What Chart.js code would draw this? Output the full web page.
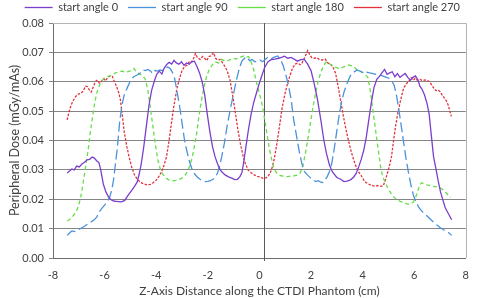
<!DOCTYPE html>
<html lang="en">
<head>
<meta charset="UTF-8" />
<title>Peripheral Dose along the CTDI Phantom</title>
<style>
  body {
    margin: 0;
    background: #ffffff;
  }
  #wrap {
    width: 480px;
    height: 298px;
  }
</style>
</head>
<body>
<div id="wrap"><canvas id="doseChart"></canvas></div>

<script src="https://cdn.jsdelivr.net/npm/chart.js"></script>
<script>
  // Values (z in cm, dose in mGy/mAs)
  const angle0X = [-7.45,-7.36,-7.27,-7.18,-7.08,-6.98,-6.88,-6.78,-6.68,-6.58,-6.48,-6.40,-6.31,-6.22,-6.15,-6.05,-5.95,-5.85,-5.75,-5.65,-5.55,-5.45,-5.35,-5.22,-5.10,-4.97,-4.84,-4.74,-4.66,-4.58,-4.48,-4.38,-4.28,-4.18,-4.08,-3.98,-3.88,-3.78,-3.70,-3.60,-3.50,-3.40,-3.31,-3.22,-3.12,-3.02,-2.92,-2.82,-2.72,-2.62,-2.52,-2.42,-2.32,-2.22,-2.12,-2.02,-1.92,-1.82,-1.72,-1.62,-1.52,-1.44,-1.33,-1.20,-1.07,-0.95,-0.85,-0.75,-0.68,-0.62,-0.52,-0.42,-0.32,-0.22,-0.12,-0.02,0.08,0.20,0.33,0.46,0.60,0.75,0.88,0.97,1.10,1.23,1.36,1.48,1.60,1.74,1.87,2.00,2.12,2.25,2.38,2.50,2.60,2.72,2.84,3.00,3.15,3.27,3.40,3.53,3.65,3.75,3.85,3.94,4.04,4.14,4.24,4.34,4.44,4.55,4.65,4.75,4.85,4.95,5.05,5.15,5.25,5.35,5.45,5.55,5.65,5.75,5.85,5.95,6.05,6.15,6.22,6.30,6.40,6.50,6.58,6.66,6.75,6.85,6.94,7.02,7.11,7.20,7.30,7.38,7.45];
  const angle0Y = [0.0289,0.0296,0.0303,0.0300,0.0313,0.0310,0.0320,0.0326,0.0334,0.0336,0.0344,0.0340,0.0331,0.0325,0.0300,0.0252,0.0225,0.0208,0.0198,0.0194,0.0193,0.0192,0.0191,0.0196,0.0212,0.0228,0.0244,0.0258,0.0285,0.0320,0.0380,0.0450,0.0520,0.0570,0.0600,0.0625,0.0636,0.0626,0.0645,0.0658,0.0666,0.0660,0.0673,0.0664,0.0660,0.0668,0.0656,0.0664,0.0660,0.0668,0.0670,0.0652,0.0630,0.0600,0.0555,0.0490,0.0430,0.0380,0.0345,0.0320,0.0300,0.0292,0.0283,0.0276,0.0272,0.0267,0.0268,0.0278,0.0290,0.0320,0.0380,0.0440,0.0490,0.0530,0.0560,0.0590,0.0617,0.0648,0.0668,0.0675,0.0677,0.0680,0.0684,0.0687,0.0680,0.0683,0.0676,0.0670,0.0675,0.0676,0.0660,0.0638,0.0595,0.0540,0.0470,0.0400,0.0355,0.0315,0.0292,0.0274,0.0268,0.0260,0.0262,0.0266,0.0275,0.0288,0.0311,0.0334,0.0365,0.0410,0.0470,0.0530,0.0580,0.0608,0.0618,0.0630,0.0642,0.0625,0.0630,0.0634,0.0617,0.0628,0.0615,0.0622,0.0628,0.0615,0.0605,0.0615,0.0620,0.0605,0.0585,0.0575,0.0555,0.0525,0.0490,0.0420,0.0345,0.0300,0.0258,0.0225,0.0198,0.0172,0.0155,0.0142,0.0130];

  const angle90X = [-7.45,-7.36,-7.27,-7.18,-7.08,-6.98,-6.88,-6.78,-6.65,-6.52,-6.40,-6.30,-6.20,-6.10,-6.00,-5.90,-5.80,-5.72,-5.65,-5.58,-5.50,-5.42,-5.33,-5.24,-5.12,-5.00,-4.88,-4.75,-4.62,-4.52,-4.42,-4.32,-4.22,-4.14,-4.05,-3.95,-3.85,-3.75,-3.65,-3.55,-3.45,-3.36,-3.28,-3.20,-3.10,-3.00,-2.90,-2.80,-2.70,-2.60,-2.50,-2.40,-2.30,-2.20,-2.10,-2.00,-1.90,-1.80,-1.70,-1.62,-1.54,-1.46,-1.36,-1.25,-1.12,-1.00,-0.88,-0.78,-0.68,-0.58,-0.48,-0.38,-0.28,-0.18,-0.08,0.02,0.12,0.22,0.33,0.45,0.58,0.71,0.82,0.92,1.02,1.12,1.23,1.33,1.45,1.55,1.65,1.75,1.87,1.99,2.10,2.18,2.28,2.38,2.46,2.55,2.63,2.72,2.80,2.88,2.98,3.08,3.18,3.28,3.40,3.52,3.65,3.78,3.90,4.02,4.15,4.28,4.40,4.52,4.65,4.78,4.90,5.02,5.12,5.22,5.30,5.38,5.48,5.58,5.68,5.78,5.88,5.98,6.08,6.18,6.27,6.38,6.50,6.62,6.75,6.88,7.00,7.12,7.25,7.35,7.45];
  const angle90Y = [0.0077,0.0085,0.0092,0.0090,0.0093,0.0098,0.0103,0.0108,0.0116,0.0123,0.0130,0.0140,0.0158,0.0170,0.0180,0.0192,0.0208,0.0232,0.0268,0.0320,0.0380,0.0460,0.0520,0.0555,0.0580,0.0603,0.0617,0.0622,0.0630,0.0640,0.0638,0.0642,0.0636,0.0628,0.0638,0.0636,0.0640,0.0638,0.0648,0.0650,0.0644,0.0630,0.0610,0.0570,0.0520,0.0460,0.0400,0.0360,0.0325,0.0300,0.0285,0.0275,0.0268,0.0262,0.0260,0.0261,0.0263,0.0268,0.0276,0.0290,0.0315,0.0345,0.0390,0.0450,0.0510,0.0560,0.0610,0.0645,0.0670,0.0680,0.0684,0.0672,0.0676,0.0668,0.0670,0.0674,0.0668,0.0675,0.0684,0.0678,0.0684,0.0688,0.0675,0.0655,0.0625,0.0590,0.0540,0.0470,0.0410,0.0360,0.0320,0.0294,0.0282,0.0272,0.0265,0.0260,0.0263,0.0258,0.0257,0.0266,0.0277,0.0295,0.0320,0.0360,0.0420,0.0480,0.0530,0.0565,0.0595,0.0620,0.0632,0.0640,0.0636,0.0630,0.0633,0.0630,0.0628,0.0625,0.0622,0.0620,0.0616,0.0612,0.0605,0.0588,0.0560,0.0520,0.0460,0.0400,0.0340,0.0290,0.0245,0.0210,0.0190,0.0172,0.0162,0.0152,0.0143,0.0133,0.0122,0.0112,0.0104,0.0097,0.0090,0.0085,0.0077];

  const angle180X = [-7.45,-7.36,-7.27,-7.18,-7.08,-7.00,-6.92,-6.85,-6.78,-6.70,-6.62,-6.55,-6.47,-6.38,-6.30,-6.20,-6.10,-6.00,-5.90,-5.80,-5.70,-5.58,-5.45,-5.32,-5.20,-5.08,-4.96,-4.86,-4.76,-4.64,-4.52,-4.42,-4.33,-4.24,-4.14,-4.04,-3.94,-3.84,-3.74,-3.64,-3.54,-3.44,-3.34,-3.24,-3.14,-3.04,-2.94,-2.84,-2.74,-2.64,-2.54,-2.44,-2.34,-2.24,-2.14,-2.04,-1.94,-1.82,-1.70,-1.58,-1.46,-1.34,-1.22,-1.10,-1.00,-0.90,-0.80,-0.70,-0.60,-0.50,-0.42,-0.32,-0.22,-0.12,-0.02,0.08,0.18,0.28,0.38,0.48,0.56,0.65,0.75,0.84,0.95,1.10,1.22,1.35,1.48,1.56,1.63,1.70,1.78,1.87,1.97,2.07,2.17,2.27,2.38,2.50,2.60,2.70,2.80,2.90,3.00,3.10,3.20,3.32,3.45,3.55,3.65,3.78,3.90,4.00,4.10,4.20,4.28,4.36,4.45,4.54,4.62,4.70,4.78,4.87,4.96,5.06,5.16,5.26,5.36,5.46,5.56,5.66,5.76,5.86,5.96,6.05,6.13,6.21,6.30,6.40,6.50,6.62,6.75,6.88,7.00,7.12,7.23,7.32,7.42];
  const angle180Y = [0.0126,0.0131,0.0138,0.0148,0.0162,0.0180,0.0210,0.0245,0.0285,0.0330,0.0380,0.0430,0.0480,0.0530,0.0563,0.0588,0.0604,0.0613,0.0617,0.0620,0.0624,0.0630,0.0634,0.0636,0.0632,0.0635,0.0638,0.0645,0.0632,0.0626,0.0621,0.0608,0.0575,0.0520,0.0455,0.0390,0.0335,0.0302,0.0285,0.0274,0.0267,0.0264,0.0263,0.0264,0.0267,0.0270,0.0276,0.0287,0.0305,0.0330,0.0370,0.0420,0.0485,0.0540,0.0585,0.0620,0.0643,0.0658,0.0667,0.0664,0.0676,0.0670,0.0672,0.0676,0.0680,0.0677,0.0682,0.0685,0.0688,0.0684,0.0686,0.0668,0.0640,0.0600,0.0565,0.0535,0.0485,0.0430,0.0375,0.0334,0.0305,0.0292,0.0283,0.0280,0.0278,0.0277,0.0279,0.0280,0.0282,0.0286,0.0300,0.0320,0.0355,0.0400,0.0455,0.0510,0.0558,0.0600,0.0632,0.0657,0.0668,0.0662,0.0657,0.0650,0.0648,0.0644,0.0648,0.0652,0.0657,0.0655,0.0652,0.0641,0.0636,0.0632,0.0625,0.0615,0.0580,0.0530,0.0470,0.0410,0.0360,0.0310,0.0275,0.0260,0.0240,0.0226,0.0212,0.0203,0.0197,0.0193,0.0190,0.0187,0.0183,0.0186,0.0190,0.0205,0.0225,0.0250,0.0256,0.0252,0.0249,0.0246,0.0244,0.0242,0.0239,0.0232,0.0222,0.0214,0.0207];

  const angle270X = [-7.45,-7.38,-7.30,-7.21,-7.12,-7.02,-6.92,-6.82,-6.74,-6.66,-6.58,-6.52,-6.44,-6.36,-6.28,-6.20,-6.12,-6.04,-5.96,-5.88,-5.78,-5.70,-5.62,-5.54,-5.46,-5.39,-5.32,-5.24,-5.14,-5.04,-4.95,-4.85,-4.75,-4.62,-4.48,-4.35,-4.22,-4.12,-4.00,-3.90,-3.80,-3.70,-3.60,-3.50,-3.40,-3.31,-3.20,-3.10,-3.00,-2.90,-2.80,-2.70,-2.62,-2.55,-2.48,-2.40,-2.30,-2.20,-2.12,-2.04,-1.96,-1.88,-1.78,-1.70,-1.62,-1.52,-1.42,-1.32,-1.24,-1.14,-1.04,-0.94,-0.84,-0.74,-0.64,-0.54,-0.44,-0.32,-0.20,-0.08,0.04,0.14,0.25,0.33,0.42,0.50,0.58,0.68,0.78,0.88,0.98,1.08,1.18,1.28,1.38,1.48,1.58,1.66,1.74,1.82,1.87,1.94,2.02,2.12,2.22,2.32,2.44,2.55,2.65,2.75,2.85,2.95,3.05,3.15,3.25,3.35,3.45,3.55,3.65,3.75,3.85,3.95,4.08,4.20,4.32,4.45,4.58,4.70,4.80,4.87,4.95,5.03,5.12,5.20,5.28,5.38,5.48,5.58,5.68,5.78,5.88,5.96,6.04,6.12,6.22,6.32,6.42,6.52,6.60,6.68,6.76,6.84,6.92,7.00,7.08,7.16,7.24,7.32,7.38,7.44];
  const angle270Y = [0.0470,0.0497,0.0520,0.0537,0.0550,0.0558,0.0560,0.0570,0.0585,0.0583,0.0570,0.0565,0.0582,0.0600,0.0606,0.0595,0.0602,0.0610,0.0603,0.0615,0.0620,0.0618,0.0600,0.0585,0.0565,0.0540,0.0490,0.0430,0.0380,0.0340,0.0310,0.0285,0.0270,0.0258,0.0252,0.0249,0.0251,0.0256,0.0265,0.0277,0.0292,0.0315,0.0345,0.0400,0.0465,0.0520,0.0575,0.0610,0.0638,0.0652,0.0657,0.0670,0.0668,0.0680,0.0696,0.0682,0.0676,0.0686,0.0680,0.0672,0.0686,0.0688,0.0699,0.0680,0.0674,0.0676,0.0663,0.0650,0.0635,0.0606,0.0555,0.0500,0.0440,0.0390,0.0350,0.0320,0.0300,0.0290,0.0283,0.0278,0.0275,0.0271,0.0273,0.0277,0.0290,0.0310,0.0340,0.0390,0.0450,0.0510,0.0555,0.0590,0.0620,0.0645,0.0660,0.0664,0.0658,0.0665,0.0680,0.0695,0.0706,0.0694,0.0683,0.0680,0.0682,0.0676,0.0674,0.0677,0.0664,0.0660,0.0650,0.0630,0.0585,0.0535,0.0485,0.0440,0.0400,0.0365,0.0335,0.0310,0.0292,0.0280,0.0260,0.0253,0.0248,0.0245,0.0246,0.0244,0.0246,0.0262,0.0285,0.0310,0.0345,0.0400,0.0450,0.0500,0.0540,0.0575,0.0592,0.0600,0.0614,0.0605,0.0612,0.0605,0.0608,0.0604,0.0606,0.0604,0.0600,0.0588,0.0578,0.0570,0.0572,0.0566,0.0555,0.0546,0.0536,0.0520,0.0500,0.0482];

  const seriesLabels = ['start angle 0', 'start angle 90', 'start angle 180', 'start angle 270'];
  const yTicks = [0, 0.01, 0.02, 0.03, 0.04, 0.05, 0.06, 0.07, 0.08];
  const xTicks = [-8, -6, -4, -2, 0, 2, 4, 6, 8];
  const ZERO_LINE_X = 0.17;   // the dark vertical line sits a little right of the "0" label

  function toPoints(xs, ys) {
    return xs.map((x, i) => ({ x: x, y: ys[i] }));
  }

  const textColor = '#404040';
  const baseFont = 'Lato, "Open Sans", sans-serif';

  // light frame on top / right and the dark vertical line near z = 0
  const frame = {
    id: 'frame',
    beforeDatasetsDraw(chart) {
      const { ctx, chartArea: a, scales } = chart;
      ctx.save();
      ctx.lineWidth = 1;
      ctx.strokeStyle = '#b4b4b4';
      ctx.beginPath();
      ctx.moveTo(a.left, Math.round(a.top) + 0.5);
      ctx.lineTo(Math.round(a.right) + 0.5, Math.round(a.top) + 0.5);
      ctx.lineTo(Math.round(a.right) + 0.5, a.bottom);
      ctx.stroke();
      const zx = Math.round(scales.x.getPixelForValue(ZERO_LINE_X)) + 0.5;
      ctx.strokeStyle = '#5a5a5a';
      ctx.beginPath();
      ctx.moveTo(zx, a.top);
      ctx.lineTo(zx, a.bottom + 3);
      ctx.stroke();
      ctx.restore();
    }
  };

  new Chart(document.getElementById('doseChart'), {
    type: 'line',
    data: {
      datasets: [
        { label: seriesLabels[0], data: toPoints(angle0X, angle0Y), borderColor: '#7a3fcc', borderWidth: 1.3 },
        { label: seriesLabels[1], data: toPoints(angle90X, angle90Y), borderColor: '#4a92dc', borderWidth: 1.3, borderDash: [10, 4] },
        { label: seriesLabels[2], data: toPoints(angle180X, angle180Y), borderColor: '#66de48', borderWidth: 1.3, borderDash: [4, 3] },
        { label: seriesLabels[3], data: toPoints(angle270X, angle270Y), borderColor: '#e2323c', borderWidth: 1.3, borderDash: [2.5, 1.5] }
      ]
    },
    options: {
      responsive: true,
      maintainAspectRatio: false,
      animation: false,
      layout: { padding: { top: -8, right: 10, left: 0, bottom: 0 } },
      elements: {
        point: { radius: 0 },
        line: { tension: 0, fill: false }
      },
      plugins: {
        legend: {
          position: 'top',
          align: 'end',
          labels: {
            usePointStyle: true,
            pointStyle: 'line',
            pointStyleWidth: 28,
            padding: 10,
            color: textColor,
            font: { family: baseFont, size: 11 }
          }
        },
        tooltip: { enabled: false }
      },
      scales: {
        x: {
          type: 'linear',
          min: -8,
          max: 8,
          afterBuildTicks: s => { s.ticks = xTicks.map(v => ({ value: v })); },
          afterFit: s => { s.height = 40; },
          grid: { display: false, drawTicks: false },
          border: { display: true, color: '#6e6e6e', width: 1 },
          ticks: { padding: 11, color: textColor, font: { family: baseFont, size: 11 } },
          title: {
            display: true,
            text: 'Z-Axis Distance along the CTDI Phantom (cm)',
            color: textColor,
            font: { family: baseFont, size: 12 },
            padding: { top: 0, bottom: 0 }
          }
        },
        y: {
          min: 0,
          max: 0.08,
          afterBuildTicks: s => { s.ticks = yTicks.map(v => ({ value: v })); },
          afterFit: s => { s.width = 53; },
          grid: {
            color: '#858585',
            lineWidth: 1,
            tickLength: 4,
            drawTicks: true
          },
          border: { display: true, color: '#6e6e6e', width: 1 },
          ticks: {
            padding: 5,
            color: textColor,
            font: { family: baseFont, size: 11 },
            callback: v => v.toFixed(2)
          },
          title: {
            display: true,
            text: 'Peripheral Dose (mGy/mAs)',
            color: textColor,
            font: { family: baseFont, size: 12.5 },
            padding: { top: 7, bottom: 0 }
          }
        }
      }
    },
    plugins: [frame]
  });
</script>
</body>
</html>
